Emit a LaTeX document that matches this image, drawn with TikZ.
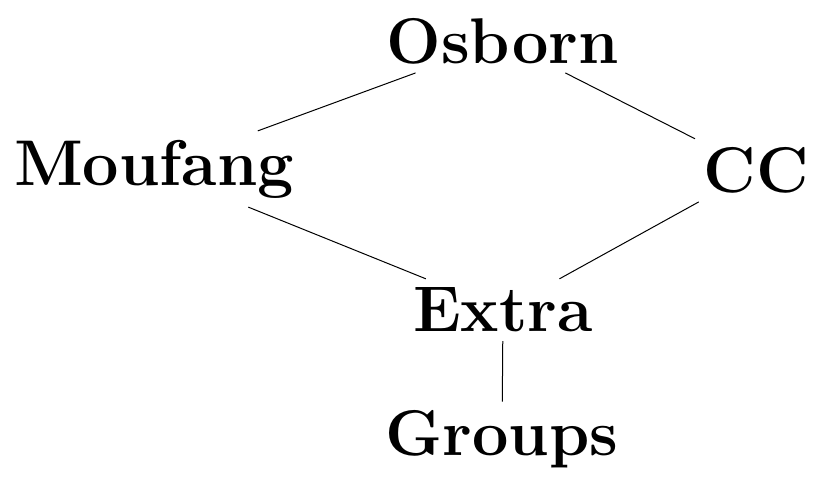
\documentclass[tikz,border=0pt]{standalone}
\begin{document}
\begin{tikzpicture}[x=0.5pt,y=-0.5pt,
  lat/.style={font=\fontsize{32.3}{39}\selectfont\bfseries, inner sep=4.5pt, outer sep=0pt},
  edge/.style={line width=0.5pt}]
  \useasboundingbox (0,0) rectangle (817,476);
  \node[lat] (osb) at (502.5,41) {Osborn};
  \node[lat] (mou) at (154,169) {Moufang};
  \node[lat] (cc)  at (756.5,170) {CC};
  \node[lat] (ext) at (503,310) {Extra};
  \node[lat] (grp) at (502,439.5) {Groups};
  \draw[edge] (osb) -- (mou);
  \draw[edge] (osb) -- (cc);
  \draw[edge] (mou) -- (ext);
  \draw[edge] (cc) -- (ext);
  \draw[edge] (ext) -- (grp);
\end{tikzpicture}
\end{document}
